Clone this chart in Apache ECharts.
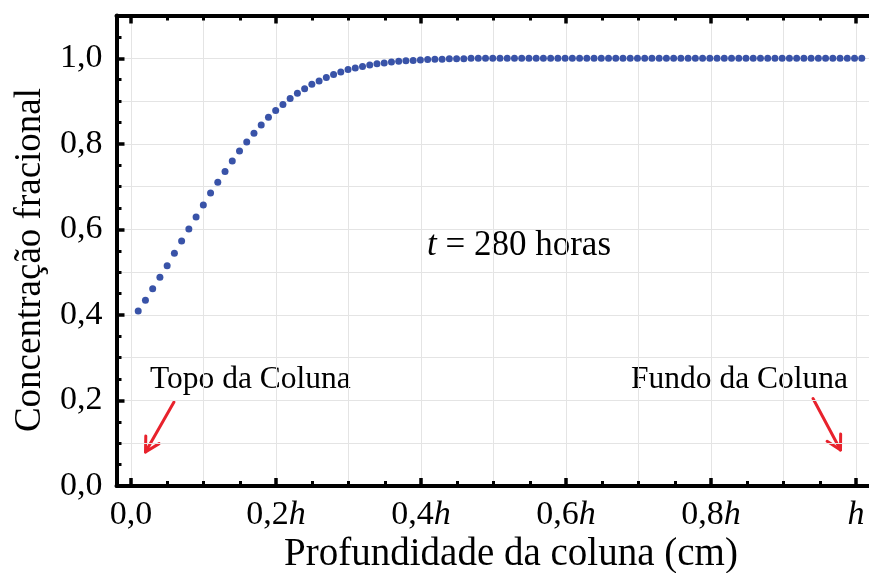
<!DOCTYPE html>
<html>
<head>
<meta charset="utf-8">
<script src="https://cdn.jsdelivr.net/npm/echarts@6/dist/echarts.min.js"></script>
<style>
  html, body { margin: 0; padding: 0; background: #ffffff; }
  #chart { width: 869px; height: 573px; }
</style>
</head>
<body>
<div id="chart"></div>
<script>
// Depth along the column, as a fraction of the column height h
const depth = [
  0.01, 0.02, 0.03, 0.04, 0.05, 0.06, 0.07, 0.08, 0.09, 0.10,
  0.11, 0.12, 0.13, 0.14, 0.15, 0.16, 0.17, 0.18, 0.19, 0.20,
  0.21, 0.22, 0.23, 0.24, 0.25, 0.26, 0.27, 0.28, 0.29, 0.30,
  0.31, 0.32, 0.33, 0.34, 0.35, 0.36, 0.37, 0.38, 0.39, 0.40,
  0.41, 0.42, 0.43, 0.44, 0.45, 0.46, 0.47, 0.48, 0.49, 0.50,
  0.51, 0.52, 0.53, 0.54, 0.55, 0.56, 0.57, 0.58, 0.59, 0.60,
  0.61, 0.62, 0.63, 0.64, 0.65, 0.66, 0.67, 0.68, 0.69, 0.70,
  0.71, 0.72, 0.73, 0.74, 0.75, 0.76, 0.77, 0.78, 0.79, 0.80,
  0.81, 0.82, 0.83, 0.84, 0.85, 0.86, 0.87, 0.88, 0.89, 0.90,
  0.91, 0.92, 0.93, 0.94, 0.95, 0.96, 0.97, 0.98, 0.99, 1.00,
  1.01
];

// Fractional concentration at t = 280 h
const concentration = [
  0.409, 0.434, 0.461, 0.488, 0.515, 0.544, 0.573, 0.601, 0.629, 0.657,
  0.685, 0.710, 0.735, 0.760, 0.783, 0.804, 0.825, 0.844, 0.862, 0.878,
  0.892, 0.906, 0.918, 0.929, 0.939, 0.947, 0.955, 0.962, 0.968, 0.974,
  0.977, 0.981, 0.984, 0.987, 0.989, 0.991, 0.993, 0.994, 0.995, 0.996,
  0.997, 0.998, 0.998, 0.999, 0.999, 0.999, 1.000, 1.000, 1.000, 1.000,
  1.000, 1.000, 1.000, 1.000, 1.000, 1.000, 1.000, 1.000, 1.000, 1.000,
  1.000, 1.000, 1.000, 1.000, 1.000, 1.000, 1.000, 1.000, 1.000, 1.000,
  1.000, 1.000, 1.000, 1.000, 1.000, 1.000, 1.000, 1.000, 1.000, 1.000,
  1.000, 1.000, 1.000, 1.000, 1.000, 1.000, 1.000, 1.000, 1.000, 1.000,
  1.000, 1.000, 1.000, 1.000, 1.000, 1.000, 1.000, 1.000, 1.000, 1.000,
  1.000
];

// Tick labels along the depth axis
const xTickValues = [0, 0.2, 0.4, 0.6, 0.8, 1.0];
const xTickLabels = ['0,0', '0,2{i|h}', '0,4{i|h}', '0,6{i|h}', '0,8{i|h}', '{i|h}'];
const yTickValues = [0, 0.2, 0.4, 0.6, 0.8, 1.0];
const yTickLabels = ['0,0', '0,2', '0,4', '0,6', '0,8', '1,0'];

const FONT = '"Liberation Serif", "Times New Roman", serif';
const INK = '#000000';
const GRIDLINE = '#e4e4e4';
const ARROW = '#e8222c';

const chart = echarts.init(document.getElementById('chart'), null, { renderer: 'canvas' });

const axisLineStyle = { color: INK, width: 4 };
const majorTick = { show: true, inside: true, length: 8, lineStyle: { color: INK, width: 3.5 } };
const minorTick = { show: true, splitNumber: 4, length: 5, lineStyle: { color: INK, width: 3 } };

function labelFor(values, labels, v) {
  for (let i = 0; i < values.length; i++) {
    if (Math.abs(values[i] - v) < 1e-6) return labels[i];
  }
  return '';
}

// Annotation arrow: shaft from tail to tip plus a two-stroke head
function arrow(tail, tip) {
  const ang = Math.atan2(tip[1] - tail[1], tip[0] - tail[0]);
  const len = 16, spread = 0.5;
  const w1 = [tip[0] - len * Math.cos(ang - spread), tip[1] - len * Math.sin(ang - spread)];
  const w2 = [tip[0] - len * Math.cos(ang + spread), tip[1] - len * Math.sin(ang + spread)];
  const style = { stroke: ARROW, lineWidth: 3, fill: null, lineCap: 'round', lineJoin: 'round' };
  return [
    { type: 'polyline', shape: { points: [tail, tip] }, style: style },
    { type: 'polyline', shape: { points: [w1, tip, w2] }, style: style }
  ];
}

const option = {
  backgroundColor: '#ffffff',
  animation: false,
  grid: [
    // frame grid: carries the data and the frame lines
    { left: 116.5, top: 15.5, width: 754, height: 470.5, containLabel: false },
    // tick grid: spans exactly 0 .. h
    { left: 131, top: 15.5, width: 725, height: 470.5, containLabel: false }
  ],
  xAxis: [
    { // 0: bottom frame line
      gridIndex: 0, type: 'value', position: 'bottom', min: -0.02, max: 1.02,
      axisLine: { show: true, onZero: false, lineStyle: axisLineStyle },
      axisTick: { show: false }, axisLabel: { show: false }, splitLine: { show: false }
    },
    { // 1: top frame line
      gridIndex: 0, type: 'value', position: 'top', min: -0.02, max: 1.02,
      axisLine: { show: true, onZero: false, lineStyle: axisLineStyle },
      axisTick: { show: false }, axisLabel: { show: false }, splitLine: { show: false }
    },
    { // 2: bottom ticks and labels
      gridIndex: 1, type: 'value', position: 'bottom', min: 0, max: 1, interval: 0.2,
      axisLine: { show: false, onZero: false },
      axisTick: majorTick, minorTick: minorTick,
      axisLabel: {
        show: true, margin: 12, color: INK, fontFamily: FONT, fontSize: 34,
        formatter: v => labelFor(xTickValues, xTickLabels, v),
        rich: { i: { fontFamily: FONT, fontSize: 34, fontStyle: 'italic', color: INK } }
      },
      splitLine: { show: false }
    },
    { // 3: top ticks
      gridIndex: 1, type: 'value', position: 'top', min: 0, max: 1, interval: 0.2,
      axisLine: { show: false, onZero: false },
      axisTick: majorTick, minorTick: minorTick,
      axisLabel: { show: false }, splitLine: { show: false }
    },
    { // 4: vertical grid lines every 0.1 h
      gridIndex: 1, type: 'value', position: 'bottom', min: 0, max: 1, interval: 0.1,
      axisLine: { show: false, onZero: false }, axisTick: { show: false }, axisLabel: { show: false },
      splitLine: { show: true, lineStyle: { color: GRIDLINE, width: 1 } }
    }
  ],
  yAxis: [
    { // 0: left frame line with ticks and labels
      gridIndex: 0, type: 'value', position: 'left', min: 0, max: 1.1, interval: 0.2,
      axisLine: { show: true, onZero: false, lineStyle: axisLineStyle },
      axisTick: majorTick, minorTick: minorTick,
      axisLabel: {
        show: true, margin: 14, color: INK, fontFamily: FONT, fontSize: 34,
        formatter: v => labelFor(yTickValues, yTickLabels, v)
      },
      splitLine: { show: false }
    },
    { // 1: horizontal grid lines every 0.1
      gridIndex: 0, type: 'value', position: 'left', min: 0, max: 1.1, interval: 0.1,
      axisLine: { show: false, onZero: false }, axisTick: { show: false }, axisLabel: { show: false },
      splitLine: { show: true, lineStyle: { color: GRIDLINE, width: 1 } }
    },
    { // 2: companion axis of the tick grid
      gridIndex: 1, type: 'value', position: 'left', min: 0, max: 1.1, show: false
    }
  ],
  series: [
    {
      type: 'scatter',
      xAxisIndex: 0,
      yAxisIndex: 0,
      symbol: 'circle',
      symbolSize: 7,
      itemStyle: { color: '#3953a8', opacity: 1 },
      data: depth.map((d, i) => [d, concentration[i]]),
      z: 3
    }
  ],
  graphic: [
    {
      type: 'text', x: 427, y: 246,
      style: {
        text: '{i|t} = 280 horas', fill: INK, font: '35px ' + FONT,
        verticalAlign: 'middle', align: 'left',
        rich: { i: { fontFamily: FONT, fontSize: 35, fontStyle: 'italic', fill: INK } }
      }
    },
    {
      type: 'text', x: 150, y: 380,
      style: { text: 'Topo da Coluna', fill: INK, font: '31.5px ' + FONT, verticalAlign: 'middle', align: 'left' }
    },
    {
      type: 'text', x: 631, y: 380,
      style: { text: 'Fundo da Coluna', fill: INK, font: '31.5px ' + FONT, verticalAlign: 'middle', align: 'left' }
    },
    {
      type: 'text', x: 30, y: 260, rotation: Math.PI / 2,
      style: { text: 'Concentração fracional', fill: INK, font: '37px ' + FONT, verticalAlign: 'middle', align: 'center' }
    },
    {
      type: 'text', x: 511, y: 555,
      style: { text: 'Profundidade da coluna (cm)', fill: INK, font: '39px ' + FONT, verticalAlign: 'middle', align: 'center' }
    }
  ]
    .concat(arrow([174, 402], [145.5, 452]))
    .concat(arrow([813, 398.5], [840.5, 450]))
};

chart.setOption(option);
</script>
</body>
</html>
